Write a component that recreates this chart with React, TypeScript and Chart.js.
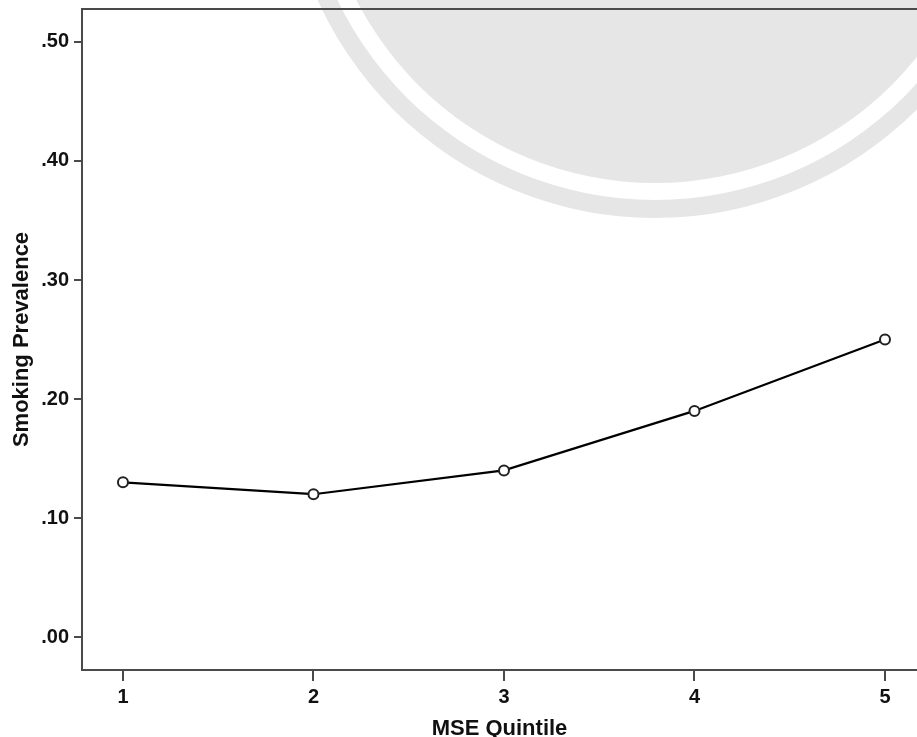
import React, { useEffect, useRef } from "react";
import { Chart, registerables } from "chart.js";

Chart.register(...registerables);

const quintiles = [1, 2, 3, 4, 5];
const prevalence = [0.13, 0.12, 0.14, 0.19, 0.25];
const yTicks = [0, 0.1, 0.2, 0.3, 0.4, 0.5];
const xTitle = "MSE Quintile";
const yTitle = "Smoking Prevalence";

const FONT = "'Liberation Sans', Arial, sans-serif";
const AXIS = "#4a4a4a";

const watermark = {
  id: "watermark",
  beforeDraw(chart: any) {
    const ctx = chart.ctx;
    ctx.save();
    const cx = 655;
    const cy = -152;
    const rings: [number, string][] = [
      [370, "#e6e6e6"],
      [352, "#ffffff"],
      [335, "#e6e6e6"],
    ];
    for (const [r, c] of rings) {
      ctx.beginPath();
      ctx.arc(cx, cy, r, 0, Math.PI * 2);
      ctx.fillStyle = c;
      ctx.fill();
    }
    ctx.restore();
  },
  afterDraw(chart: any) {
    const { ctx, chartArea } = chart;
    ctx.save();
    ctx.strokeStyle = AXIS;
    ctx.lineWidth = 2;
    ctx.beginPath();
    ctx.moveTo(chartArea.left - 1, chartArea.top);
    ctx.lineTo(chart.width, chartArea.top);
    ctx.stroke();
    ctx.restore();
  },
};

const zeroPad = (s: any) => {
  s.paddingLeft = 0;
  s.paddingRight = 0;
  s.paddingTop = 0;
  s.paddingBottom = 0;
};

export default function App() {
  const ref = useRef<HTMLCanvasElement>(null);
  useEffect(() => {
    document.body.style.margin = "0";
    const chart = new Chart(ref.current!, {
      type: "line",
      data: {
        datasets: [
          {
            data: quintiles.map((q, i) => ({ x: q, y: prevalence[i] })),
            borderColor: "#000",
            borderWidth: 2.2,
            pointRadius: 5,
            pointBorderWidth: 2,
            pointBackgroundColor: "#fff",
            pointBorderColor: "#222",
            tension: 0,
          },
        ],
      },
      plugins: [watermark],
      options: {
        animation: false,
        responsive: false,
        layout: { autoPadding: false, padding: { top: 9, right: 0, left: 0, bottom: 0 } },
        plugins: { legend: { display: false }, tooltip: { enabled: false } },
        scales: {
          x: {
            type: "linear",
            min: 0.785,
            max: 5.168,
            afterBuildTicks: (s: any) => {
              s.ticks = quintiles.map((v) => ({ value: v }));
            },
            afterFit: (s: any) => {
              s.height = 67;
              zeroPad(s);
            },
            grid: {
              drawOnChartArea: false,
              drawTicks: true,
              tickLength: 11,
              color: AXIS,
              lineWidth: 2,
            },
            border: { display: true, color: AXIS, width: 2 },
            ticks: {
              padding: 4,
              color: "#111",
              font: { family: FONT, size: 20, weight: "bold" },
              callback: (v: any) => String(v),
            },
            title: {
              display: true,
              text: xTitle,
              color: "#111",
              padding: 0,
              font: { family: FONT, size: 22, weight: "bold", lineHeight: 0.75 },
            },
          },
          y: {
            type: "linear",
            min: -0.0277,
            max: 0.5277,
            afterBuildTicks: (s: any) => {
              s.ticks = yTicks.map((v) => ({ value: v }));
            },
            afterFit: (s: any) => {
              s.width = 82;
              zeroPad(s);
            },
            grid: {
              drawOnChartArea: false,
              drawTicks: true,
              tickLength: 8,
              color: AXIS,
              lineWidth: 2,
            },
            border: { display: true, color: AXIS, width: 2 },
            ticks: {
              padding: 5,
              color: "#111",
              font: { family: FONT, size: 20, weight: "bold" },
              callback: (v: any) => Number(v).toFixed(2).replace(/^0/, ""),
            },
            title: {
              display: true,
              text: yTitle,
              color: "#111",
              padding: { top: 9, bottom: 0 },
              font: { family: FONT, size: 22, weight: "bold" },
            },
          },
        },
      },
    });
    return () => chart.destroy();
  }, []);
  return (
    <div style={{ width: 917, height: 737, overflow: "hidden" }}>
      <canvas ref={ref} width={917} height={737} style={{ display: "block" }} />
    </div>
  );
}
